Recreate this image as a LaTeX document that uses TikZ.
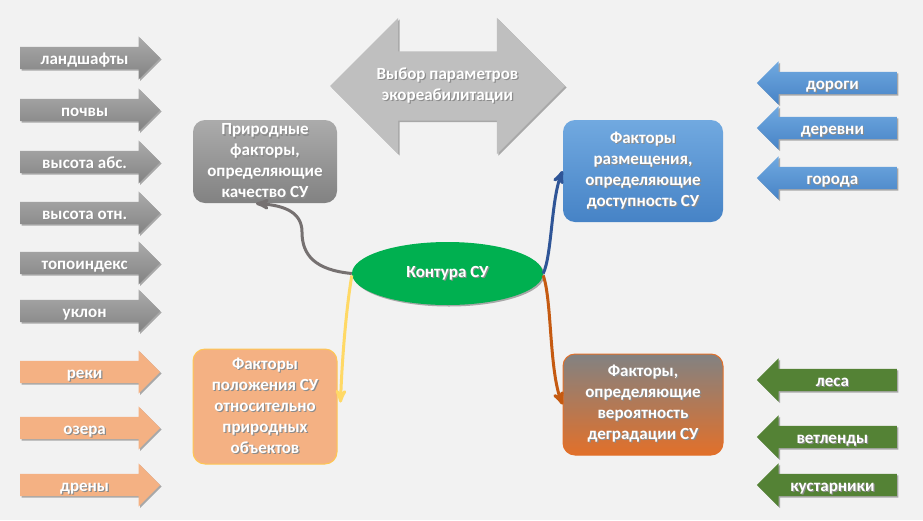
\documentclass[tikz,border=0pt]{standalone}
\usepackage{fontspec}
\setmainfont{Carlito}
\usetikzlibrary{arrows,shapes.arrows,shapes.geometric,shadows,positioning}

\definecolor{fon}{HTML}{F2F2F2}
\definecolor{seryL}{HTML}{ABABAB}
\definecolor{seryD}{HTML}{828282}
\definecolor{svetlosery}{HTML}{BFBFBF}
\definecolor{sinL}{HTML}{71A9E0}
\definecolor{sinD}{HTML}{4683C6}
\definecolor{pers}{HTML}{F4B183}
\definecolor{zel}{HTML}{548235}
\definecolor{yarkozel}{HTML}{00B050}
\definecolor{oranzh}{HTML}{E2702A}
\definecolor{zholt}{HTML}{FFD966}
\definecolor{temnosin}{HTML}{2F5597}
\definecolor{korich}{HTML}{C55A11}
\definecolor{lin}{HTML}{767171}

\newcommand{\shd}[1]{\makebox[0pt][l]{\hspace{1.2pt}\raisebox{-1.2pt}{\color{black!45}#1}}#1}

\begin{document}
\begin{tikzpicture}[x=1pt,y=-1pt,->,>=stealth',
    txt/.style={text=white,font=\bfseries\fontsize{17}{21}\selectfont,align=center},
    sh/.style={drop shadow={shadow xshift=1.5pt,shadow yshift=-1.5pt,opacity=0.3,fill=black}},
    con/.style={line width=3pt}]
  \tikzstyle{pr}=[single arrow,txt,sh,draw=none,anchor=tail,minimum height=140pt,single arrow head extend=10.5pt,
                  text height=12.5pt,text depth=0.5pt,inner ysep=4.5pt,inner xsep=2pt]
  \tikzstyle{lv}=[pr,shape border rotate=180]
  \tikzstyle{box}=[rectangle,rounded corners=12pt,txt,inner sep=2pt,line width=1pt]

  \fill[fon] (0,0) rectangle (923,520);

  \node[pr,top color=seryL,bottom color=seryD] (g1) at (20,58)  {\shd{ландшафты}};
  \node[pr,top color=seryL,bottom color=seryD] (g2) at (20,110) {\shd{почвы}};
  \node[pr,top color=seryL,bottom color=seryD] (g3) at (20,162) {\shd{высота абс.}};
  \node[pr,top color=seryL,bottom color=seryD] (g4) at (20,213) {\shd{высота отн.}};
  \node[pr,top color=seryL,bottom color=seryD] (g5) at (20,263) {\shd{топоиндекс}};
  \node[pr,top color=seryL,bottom color=seryD] (g6) at (20,311) {\shd{уклон}};
  \node[pr,fill=pers] (o1) at (20,372) {\shd{реки}};
  \node[pr,fill=pers] (o2) at (20,428) {\shd{озера}};
  \node[pr,fill=pers] (o3) at (20,485) {\shd{дрены}};

  \node[lv,top color=sinL,bottom color=sinD] (b1) at (897,83)  {\shd{дороги}};
  \node[lv,top color=sinL,bottom color=sinD] (b2) at (897,128) {\shd{деревни}};
  \node[lv,top color=sinL,bottom color=sinD] (b3) at (897,178) {\shd{города}};
  \node[lv,fill=zel] (z1) at (897,380) {\shd{леса}};
  \node[lv,fill=zel] (z2) at (897,437) {\shd{ветленды}};
  \node[lv,fill=zel] (z3) at (897,485) {\shd{кустарники}};

  \node[double arrow,txt,sh,fill=svetlosery,minimum height=235pt,double arrow head extend=33.5pt,
        inner ysep=16pt] (V) at (447.5,86) {\shd{Выбор параметров}\\\shd{экореабилитации}};

  \node[box,top color=seryL,bottom color=seryD,minimum width=144pt,minimum height=83pt] (P) at (265,161.5)
    {\shd{Природные}\\\shd{факторы,}\\\shd{определяющие}\\\shd{качество СУ}};
  \node[box,top color=sinL,bottom color=sinD,minimum width=160pt,minimum height=102pt] (R) at (643,171)
    {\shd{Факторы}\\\shd{размещения,}\\\shd{определяющие}\\\shd{доступность СУ}};
  \node[box,fill=pers,draw=zholt!80!orange,minimum width=144pt,minimum height=115pt] (O) at (265,406.5)
    {\shd{Факторы}\\\shd{положения СУ}\\\shd{относительно}\\\shd{природных}\\\shd{объектов}};
  \node[box,top color=seryD,bottom color=oranzh,draw=oranzh,minimum width=160pt,minimum height=101pt] (D) at (643,404.5)
    {\shd{Факторы,}\\\shd{определяющие}\\\shd{вероятность}\\\shd{деградации СУ}};

  \node[ellipse,txt,sh,fill=yarkozel,minimum width=191pt,minimum height=63pt] (K) at (447.5,273.5) {\shd{Контура СУ}};

  \draw[con,lin] (K.west) .. controls (315,270) and (302,255) .. (302,232)
                          .. controls (302,210) and (280,205) .. ([xshift=-9pt]P.south);
  \draw[con,zholt] ([yshift=-2pt]K.west) .. controls (346,310) and (342,360) .. ([shift={(3pt,4pt)}]O.east);
  \draw[con,temnosin] (K.east) .. controls (552,255) and (551,200) .. (R.west);
  \draw[con,korich] ([yshift=-2pt]K.east) .. controls (552,300) and (549,370) .. (D.west);
\end{tikzpicture}
\end{document}
